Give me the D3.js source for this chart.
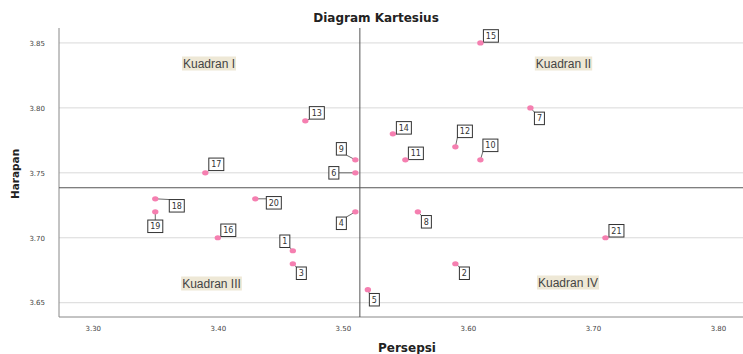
<!DOCTYPE html>
<html><head><meta charset="utf-8">
<script src="https://cdn.jsdelivr.net/npm/d3@7"></script>
<style>body{margin:0;background:#fff}svg{display:block}</style>
</head><body>
<svg id="c" width="743" height="354"></svg>
<script>
// data
const ids = ["1","2","3","4","5","6","7","8","9","10","11","12","13","14","15","16","17","18","19","20","21"];
const persepsi = [3.46,3.59,3.46,3.51,3.52,3.51,3.65,3.56,3.51,3.61,3.55,3.59,3.47,3.54,3.61,3.40,3.39,3.35,3.35,3.43,3.71];
const harapan  = [3.69,3.68,3.68,3.72,3.66,3.75,3.80,3.72,3.76,3.76,3.76,3.77,3.79,3.78,3.85,3.70,3.75,3.73,3.72,3.73,3.70];
const xTicks = [3.30,3.40,3.50,3.60,3.70,3.80];
const yTicks = [3.65,3.70,3.75,3.80,3.85];
const meanX = 3.5136, meanY = 3.7385;
const quadrants = ["Kuadran I","Kuadran II","Kuadran III","Kuadran IV"];

// label offsets in px (layout)
const labelOff = {
 "1":[-8,-9.5],"2":[9,9.5],"3":[8.5,9.5],"4":[-14,11.5],"5":[6.5,10],"6":[-21.5,0],
 "7":[9,10.5],"8":[8.5,10],"9":[-14,-11],"10":[10,-14.5],"11":[10.5,-6.5],"12":[9.5,-15.5],
 "13":[11.5,-8],"14":[11,-6],"15":[10.5,-7],"16":[10.5,-7.5],"17":[11,-8.5],"18":[21.5,7],
 "19":[0,14.5],"20":[18.5,4],"21":[11,-7]
};

const svg = d3.select("#c");
const L=59, R=743, T=28, B=317;
const x = d3.scaleLinear().domain([3.273,3.82]).range([L,R]);
const y = d3.scaleLinear().domain([3.639,3.8615]).range([B,T]);

// gridlines
svg.append("g").selectAll("line").data(yTicks).join("line")
  .attr("x1",L).attr("x2",R).attr("y1",d=>y(d)).attr("y2",d=>y(d))
  .attr("stroke","#d9d9d9").attr("stroke-width",1);

// axes
const xa = svg.append("g").attr("transform",`translate(0,${B})`)
  .call(d3.axisBottom(x).tickValues(xTicks).tickFormat(d3.format(".2f")).tickSize(0).tickPadding(9));
const ya = svg.append("g").attr("transform",`translate(${L},0)`)
  .call(d3.axisLeft(y).tickValues(yTicks).tickFormat(d3.format(".2f")).tickSize(0).tickPadding(14));
[xa,ya].forEach(a=>{
  a.select(".domain").attr("stroke","#888");
  a.selectAll("text").attr("font-family","DejaVu Sans, sans-serif").attr("font-size","7px").attr("fill","#444");
});
ya.select(".domain").attr("d",`M0,${T}V${B}`);
xa.select(".domain").attr("d",`M${L},0H${R}`);

// mean lines
svg.append("line").attr("x1",x(meanX)).attr("x2",x(meanX)).attr("y1",T).attr("y2",B).attr("stroke","#555");
svg.append("line").attr("x1",L).attr("x2",R).attr("y1",y(meanY)).attr("y2",y(meanY)).attr("stroke","#555");

// quadrant labels
const qpos = [[209,63.5],[563.5,63.5],[211.5,283.5],[568,282.5]];
quadrants.forEach((q,i)=>{
  const g = svg.append("g");
  const t = g.append("text").attr("x",qpos[i][0]).attr("y",qpos[i][1]).attr("text-anchor","middle")
    .attr("dominant-baseline","central").attr("font-family","Liberation Sans, Arial, sans-serif").attr("font-size","12px")
    .attr("fill","#444").text(q);
  const bb = t.node().getBBox();
  g.insert("rect","text").attr("x",bb.x-1).attr("y",bb.y).attr("width",bb.width+2).attr("height",bb.height)
    .attr("fill","#eee8d6");
});

// points + labels
const pts = ids.map((id,i)=>({id,x:persepsi[i],y:harapan[i]}));
const lg = svg.append("g");
pts.forEach(p=>{
  const px=x(p.x), py=y(p.y);
  const o=labelOff[p.id];
  const cx=px+o[0], cy=py+o[1];
  const w = p.id.length>1?15:10, h=12.5;
  let ex=Math.max(cx-w/2,Math.min(px,cx+w/2)), ey=Math.max(cy-h/2,Math.min(py,cy+h/2));
  lg.append("line").attr("x1",px).attr("y1",py).attr("x2",ex).attr("y2",ey).attr("stroke","#444").attr("stroke-width",0.8);
  lg.append("rect").attr("x",cx-w/2).attr("y",cy-h/2).attr("width",w).attr("height",h)
    .attr("fill","#fff").attr("stroke","#333").attr("stroke-width",1);
  lg.append("text").attr("x",cx).attr("y",cy+0.5).attr("text-anchor","middle").attr("dominant-baseline","central")
    .attr("font-family","DejaVu Sans, sans-serif").attr("font-size","8px").attr("fill","#333").text(p.id);
});
svg.append("g").selectAll("ellipse").data(pts).join("ellipse")
  .attr("cx",d=>x(d.x)).attr("cy",d=>y(d.y)).attr("rx",3.2).attr("ry",2.6).attr("fill","#f57fb0");

// titles
svg.append("text").attr("x",376).attr("y",22).attr("text-anchor","middle")
  .attr("font-family","DejaVu Sans, sans-serif").attr("font-weight","bold").attr("font-size","12px").attr("fill","#222")
  .text("Diagram Kartesius");
svg.append("text").attr("x",407).attr("y",352).attr("text-anchor","middle")
  .attr("font-family","DejaVu Sans, sans-serif").attr("font-weight","bold").attr("font-size","12px").attr("fill","#222")
  .text("Persepsi");
svg.append("text").attr("transform","translate(19,174) rotate(-90)").attr("text-anchor","middle")
  .attr("font-family","DejaVu Sans, sans-serif").attr("font-weight","bold").attr("font-size","10.5px").attr("fill","#222")
  .text("Harapan");
</script>
</body></html>
